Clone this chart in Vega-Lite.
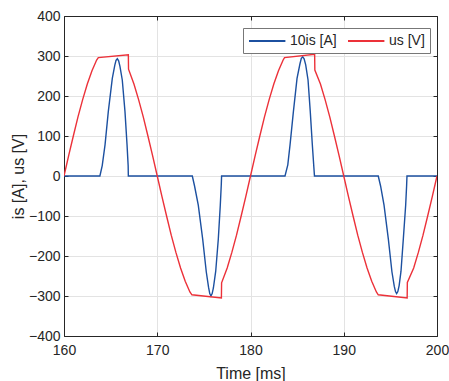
{
  "$schema": "https://vega.github.io/schema/vega-lite/v6.json",
  "autosize": {"type": "none"},
  "padding": {"left": 64, "top": 16, "right": 12, "bottom": 45},
  "width": 373,
  "height": 320,
  "background": "white",
  "config": {
    "font": "Liberation Sans",
    "axis": {"labelFont": "Liberation Sans", "titleFont": "Liberation Sans", "labelFlush": false, "labelOverlap": false},
    "legend": {"labelFont": "Liberation Sans"},
    "view": {"stroke": null}
  },
  "datasets": {
    "pts": [
      {"t":160,"v":0,"s":"10is [A]"},{"t":163.85,"v":0,"s":"10is [A]"},{"t":164.1,"v":26,"s":"10is [A]"},{"t":164.4,"v":78,"s":"10is [A]"},{"t":164.75,"v":161,"s":"10is [A]"},{"t":165.18,"v":244,"s":"10is [A]"},{"t":165.45,"v":277,"s":"10is [A]"},{"t":165.58,"v":289,"s":"10is [A]"},{"t":165.72,"v":293,"s":"10is [A]"},{"t":165.86,"v":288,"s":"10is [A]"},{"t":166.0,"v":274,"s":"10is [A]"},{"t":166.25,"v":240,"s":"10is [A]"},{"t":166.54,"v":161,"s":"10is [A]"},{"t":166.76,"v":78,"s":"10is [A]"},{"t":166.88,"v":26,"s":"10is [A]"},{"t":166.9,"v":0,"s":"10is [A]"},
      {"t":173.76,"v":0,"s":"10is [A]"},{"t":174.0,"v":-25,"s":"10is [A]"},{"t":174.4,"v":-73,"s":"10is [A]"},{"t":174.87,"v":-157,"s":"10is [A]"},{"t":175.26,"v":-240,"s":"10is [A]"},{"t":175.5,"v":-278,"s":"10is [A]"},{"t":175.63,"v":-294,"s":"10is [A]"},{"t":175.76,"v":-300,"s":"10is [A]"},{"t":175.89,"v":-294,"s":"10is [A]"},{"t":176.02,"v":-280,"s":"10is [A]"},{"t":176.27,"v":-238,"s":"10is [A]"},{"t":176.55,"v":-157,"s":"10is [A]"},{"t":176.76,"v":-73,"s":"10is [A]"},{"t":176.87,"v":-20,"s":"10is [A]"},{"t":176.9,"v":0,"s":"10is [A]"},
      {"t":183.7,"v":0,"s":"10is [A]"},{"t":184.0,"v":28,"s":"10is [A]"},{"t":184.24,"v":78,"s":"10is [A]"},{"t":184.6,"v":161,"s":"10is [A]"},{"t":184.99,"v":244,"s":"10is [A]"},{"t":185.3,"v":280,"s":"10is [A]"},{"t":185.45,"v":294,"s":"10is [A]"},{"t":185.6,"v":298,"s":"10is [A]"},{"t":185.75,"v":293,"s":"10is [A]"},{"t":185.92,"v":278,"s":"10is [A]"},{"t":186.17,"v":240,"s":"10is [A]"},{"t":186.41,"v":161,"s":"10is [A]"},{"t":186.63,"v":78,"s":"10is [A]"},{"t":186.8,"v":20,"s":"10is [A]"},{"t":186.86,"v":0,"s":"10is [A]"},
      {"t":193.7,"v":0,"s":"10is [A]"},{"t":193.95,"v":-25,"s":"10is [A]"},{"t":194.32,"v":-73,"s":"10is [A]"},{"t":194.78,"v":-157,"s":"10is [A]"},{"t":195.17,"v":-240,"s":"10is [A]"},{"t":195.42,"v":-276,"s":"10is [A]"},{"t":195.55,"v":-289,"s":"10is [A]"},{"t":195.67,"v":-294,"s":"10is [A]"},{"t":195.8,"v":-289,"s":"10is [A]"},{"t":195.94,"v":-274,"s":"10is [A]"},{"t":196.14,"v":-238,"s":"10is [A]"},{"t":196.39,"v":-157,"s":"10is [A]"},{"t":196.64,"v":-73,"s":"10is [A]"},{"t":196.74,"v":-25,"s":"10is [A]"},{"t":196.78,"v":0,"s":"10is [A]"},{"t":200,"v":0,"s":"10is [A]"},
      {"t":160,"v":0,"s":"us [V]"},{"t":160.5,"v":51,"s":"us [V]"},{"t":161,"v":100,"s":"us [V]"},{"t":161.5,"v":148,"s":"us [V]"},{"t":162,"v":191,"s":"us [V]"},{"t":162.5,"v":230,"s":"us [V]"},{"t":163,"v":263,"s":"us [V]"},{"t":163.5,"v":290,"s":"us [V]"},{"t":163.68,"v":296,"s":"us [V]"},{"t":166.9,"v":303,"s":"us [V]"},{"t":166.92,"v":267,"s":"us [V]"},{"t":167.5,"v":230,"s":"us [V]"},{"t":168,"v":191,"s":"us [V]"},{"t":168.5,"v":148,"s":"us [V]"},{"t":169,"v":100,"s":"us [V]"},{"t":169.5,"v":51,"s":"us [V]"},{"t":170,"v":0,"s":"us [V]"},
      {"t":170.5,"v":-51,"s":"us [V]"},{"t":171,"v":-100,"s":"us [V]"},{"t":171.5,"v":-148,"s":"us [V]"},{"t":172,"v":-191,"s":"us [V]"},{"t":172.5,"v":-230,"s":"us [V]"},{"t":173,"v":-263,"s":"us [V]"},{"t":173.5,"v":-290,"s":"us [V]"},{"t":173.72,"v":-297,"s":"us [V]"},{"t":176.88,"v":-305,"s":"us [V]"},{"t":176.9,"v":-267,"s":"us [V]"},{"t":177.5,"v":-230,"s":"us [V]"},{"t":178,"v":-191,"s":"us [V]"},{"t":178.5,"v":-148,"s":"us [V]"},{"t":179,"v":-100,"s":"us [V]"},{"t":179.5,"v":-51,"s":"us [V]"},{"t":180,"v":0,"s":"us [V]"},
      {"t":180.5,"v":51,"s":"us [V]"},{"t":181,"v":100,"s":"us [V]"},{"t":181.5,"v":148,"s":"us [V]"},{"t":182,"v":191,"s":"us [V]"},{"t":182.5,"v":230,"s":"us [V]"},{"t":183,"v":263,"s":"us [V]"},{"t":183.5,"v":290,"s":"us [V]"},{"t":183.65,"v":296,"s":"us [V]"},{"t":186.88,"v":304,"s":"us [V]"},{"t":186.9,"v":265,"s":"us [V]"},{"t":187.5,"v":230,"s":"us [V]"},{"t":188,"v":191,"s":"us [V]"},{"t":188.5,"v":148,"s":"us [V]"},{"t":189,"v":100,"s":"us [V]"},{"t":189.5,"v":51,"s":"us [V]"},{"t":190,"v":0,"s":"us [V]"},
      {"t":190.5,"v":-51,"s":"us [V]"},{"t":191,"v":-100,"s":"us [V]"},{"t":191.5,"v":-148,"s":"us [V]"},{"t":192,"v":-191,"s":"us [V]"},{"t":192.5,"v":-230,"s":"us [V]"},{"t":193,"v":-263,"s":"us [V]"},{"t":193.5,"v":-290,"s":"us [V]"},{"t":193.7,"v":-297,"s":"us [V]"},{"t":196.8,"v":-305,"s":"us [V]"},{"t":196.82,"v":-266,"s":"us [V]"},{"t":197.5,"v":-230,"s":"us [V]"},{"t":198,"v":-191,"s":"us [V]"},{"t":198.5,"v":-148,"s":"us [V]"},{"t":199,"v":-100,"s":"us [V]"},{"t":199.5,"v":-51,"s":"us [V]"},{"t":200,"v":0,"s":"us [V]"}
    ]
  },
  "data": {"name": "pts"},
  "layer": [
    {
      "mark": {"type": "line", "strokeWidth": 1.4, "clip": true},
      "encoding": {
        "x": {"field": "t", "type": "quantitative", "scale": {"domain": [160, 200], "nice": false, "zero": false},
          "axis": {"title": "Time [ms]", "values": [160, 170, 180, 190, 200], "grid": true, "gridColor": "#e3e3e3", "gridWidth": 1,
            "domain": true, "domainColor": "#262626", "tickSize": -4, "tickColor": "#262626", "labelPadding": 11, "labelFontSize": 14, "labelColor": "#262626",
            "titleFontSize": 16, "titleFontWeight": "normal", "titleColor": "#262626", "titlePadding": 8}},
        "y": {"field": "v", "type": "quantitative", "scale": {"domain": [-400, 400], "nice": false, "zero": false},
          "axis": {"title": "is [A], us [V]", "values": [-400, -300, -200, -100, 0, 100, 200, 300, 400], "grid": true, "gridColor": "#e3e3e3", "gridWidth": 1,
            "domain": true, "domainColor": "#262626", "tickSize": -4, "tickColor": "#262626", "labelPadding": 8, "labelFontSize": 14, "labelColor": "#262626",
            "titleFontSize": 16, "titleFontWeight": "normal", "titleColor": "#262626", "titlePadding": 2}},
        "color": {"field": "s", "type": "nominal",
          "scale": {"domain": ["10is [A]", "us [V]"], "range": ["#1c50a0", "#ec3139"]},
          "legend": {"title": null, "orient": "none", "legendX": 179, "legendY": 12, "direction": "horizontal", "columns": 2, "gridAlign": "none",
            "symbolType": "M-1,0H4.2", "symbolSize": 196, "symbolStrokeWidth": 2, "labelFontSize": 14, "labelColor": "#262626",
            "strokeColor": "#777777", "fillColor": "white", "padding": 5, "columnPadding": 7, "labelOffset": 26}}
      }
    },
    {
      "mark": {"type": "point", "opacity": 0},
      "encoding": {
        "x": {"field": "t", "type": "quantitative", "scale": {"domain": [160, 200], "nice": false, "zero": false},
          "axis": {"orient": "top", "title": null, "labels": false, "grid": false, "domain": true, "domainColor": "#262626", "values": [160, 170, 180, 190, 200], "tickSize": -4, "tickColor": "#262626"}},
        "y": {"field": "v", "type": "quantitative", "scale": {"domain": [-400, 400], "nice": false, "zero": false},
          "axis": {"orient": "right", "title": null, "labels": false, "grid": false, "domain": true, "domainColor": "#262626", "values": [-400, -300, -200, -100, 0, 100, 200, 300, 400], "tickSize": -4, "tickColor": "#262626"}}
      }
    }
  ],
  "resolve": {"axis": {"x": "independent", "y": "independent"}}
}
